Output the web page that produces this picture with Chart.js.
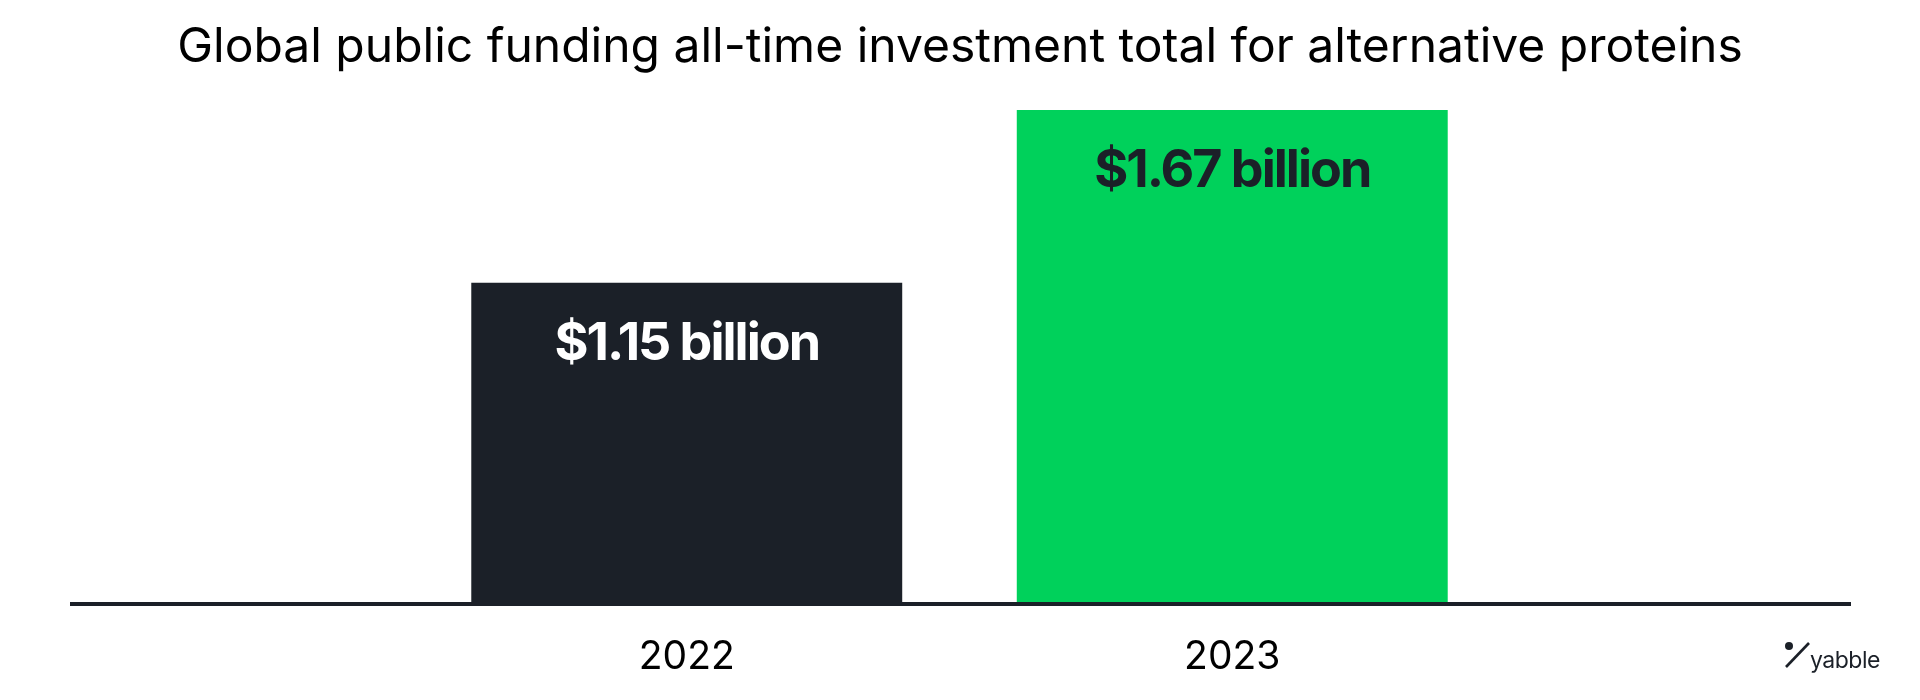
<!DOCTYPE html>
<html>
<head>
<meta charset="utf-8">
<script src="https://cdn.jsdelivr.net/npm/chart.js@4.4.1/dist/chart.umd.min.js"></script>
<style>
  html, body { margin: 0; padding: 0; background: #fff; }
  #wrap { width: 1920px; height: 700px; }
</style>
</head>
<body>
<div id="wrap"><canvas id="chart" width="1920" height="700"></canvas></div>
<script>
const years = ['2022', '2023'];
const fundingBillions = [1.15, 1.67];
const chartTitle = 'Global public funding all-time investment total for alternative proteins';

const DARK = '#1b2028';
const GREEN = '#00d15b';

// title drawn by hand so it is not squeezed to the narrow chart area
const titleText = {
  id: 'titleText',
  afterDraw(chart) {
    const ctx = chart.ctx;
    ctx.save();
    ctx.font = '400 48px Inter';
    ctx.fillStyle = '#000';
    ctx.textAlign = 'center';
    ctx.textBaseline = 'middle';
    ctx.fillText(chartTitle, chart.width / 2, 48);
    ctx.restore();
  }
};

// value labels inside the top of each bar
const barLabels = {
  id: 'barLabels',
  afterDatasetsDraw(chart) {
    const ctx = chart.ctx;
    const meta = chart.getDatasetMeta(0);
    const textColors = ['#ffffff', DARK];
    ctx.save();
    ctx.font = '700 52px Inter';
    ctx.letterSpacing = '-2px';
    ctx.textAlign = 'center';
    ctx.textBaseline = 'alphabetic';
    meta.data.forEach((bar, i) => {
      ctx.fillStyle = textColors[i];
      ctx.fillText('$' + fundingBillions[i].toFixed(2) + ' billion', bar.x, bar.y + 77);
    });
    ctx.restore();
  }
};

// long baseline + yabble mark
const baseline = {
  id: 'baseline',
  afterDraw(chart) {
    const ctx = chart.ctx;
    const y = chart.chartArea.bottom + 2;
    ctx.save();
    ctx.strokeStyle = DARK;
    ctx.lineWidth = 4;
    ctx.beginPath();
    ctx.moveTo(70, y);
    ctx.lineTo(1851, y);
    ctx.stroke();

    ctx.fillStyle = DARK;
    ctx.beginPath();
    ctx.arc(1789, 646, 4, 0, Math.PI * 2);
    ctx.fill();
    ctx.lineWidth = 2.6;
    ctx.beginPath();
    ctx.moveTo(1786, 667);
    ctx.lineTo(1809, 643);
    ctx.stroke();
    ctx.font = '23px Inter';
    ctx.letterSpacing = '-0.5px';
    ctx.textBaseline = 'alphabetic';
    ctx.textAlign = 'left';
    ctx.fillText('yabble', 1810, 668);
    ctx.restore();
  }
};

new Chart(document.getElementById('chart'), {
  type: 'bar',
  data: {
    labels: years,
    datasets: [{
      data: fundingBillions,
      backgroundColor: [DARK, GREEN],
      borderWidth: 0,
      barPercentage: 1,
      categoryPercentage: 0.79
    }]
  },
  options: {
    responsive: false,
    animation: false,
    layout: { padding: { left: 414, right: 415, top: 100, bottom: 0 } },
    plugins: {
      legend: { display: false },
      tooltip: { enabled: false },
      title: { display: false }
    },
    scales: {
      x: {
        grid: { display: false, drawTicks: false },
        border: { display: false },
        ticks: { color: '#000', padding: 32, font: { family: 'Inter', size: 39 } },
        afterFit(scale) { scale.height = 98; }
      },
      y: {
        display: false,
        min: 0.19,
        max: 1.70
      }
    }
  },
  plugins: [titleText, barLabels, baseline]
});
</script>
</body>
</html>
